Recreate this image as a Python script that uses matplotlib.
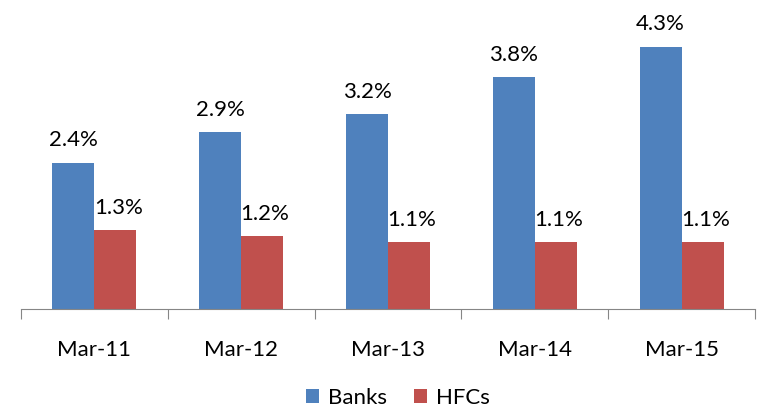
import matplotlib
matplotlib.use("Agg")
import matplotlib.pyplot as plt
import numpy as np

categories = ["Mar-11", "Mar-12", "Mar-13", "Mar-14", "Mar-15"]
banks = [2.4, 2.9, 3.2, 3.8, 4.3]
hfcs = [1.3, 1.2, 1.1, 1.1, 1.1]
series_names = ["Banks", "HFCs"]

plt.rcParams['font.family'] = ['Lato', 'DejaVu Sans']

fig = plt.figure(figsize=(7.61, 4.12), dpi=100)
ax = fig.add_axes([21/761, 1 - 309/412, (755-21)/761, 305/412])

x = np.arange(len(categories))
w = 0.286
b1 = ax.bar(x - w/2, banks, w, color="#4F81BD", label=series_names[0])
b2 = ax.bar(x + w/2, hfcs, w, color="#C0504D", label=series_names[1])

for rect, v in zip(b1, banks):
    ax.text(rect.get_x() + rect.get_width()/2, v + 0.2, f"{v:.1f}%",
            ha="center", va="bottom", fontsize=16)
for rect, v in zip(b2, hfcs):
    ax.text(rect.get_x() + rect.get_width()/2 + 0.02, v + 0.2, f"{v:.1f}%",
            ha="center", va="bottom", fontsize=16)

ax.set_xlim(-0.5, len(categories) - 0.5)
ax.set_ylim(0, 5.0)
for s in ["top", "right", "left"]:
    ax.spines[s].set_visible(False)
ax.spines["bottom"].set_color("#868686")
ax.set_yticks([])
ax.set_xticks(np.arange(len(categories) + 1) - 0.5, minor=False)
ax.set_xticklabels([])
ax.tick_params(axis="x", which="major", length=7, color="#868686", direction="out")
ax.set_xticks(x, minor=True)
ax.set_xticklabels(categories, minor=True, fontsize=16)
ax.tick_params(axis="x", which="minor", length=0, pad=22)

fig.legend(handles=[b1, b2], labels=series_names, loc="center",
           bbox_to_anchor=(398/761, 1 - 398/412), ncol=2, frameon=False,
           fontsize=16, handlelength=0.6, handleheight=0.6, columnspacing=1.2,
           handletextpad=0.4)

fig.savefig("out.png", dpi=100)
